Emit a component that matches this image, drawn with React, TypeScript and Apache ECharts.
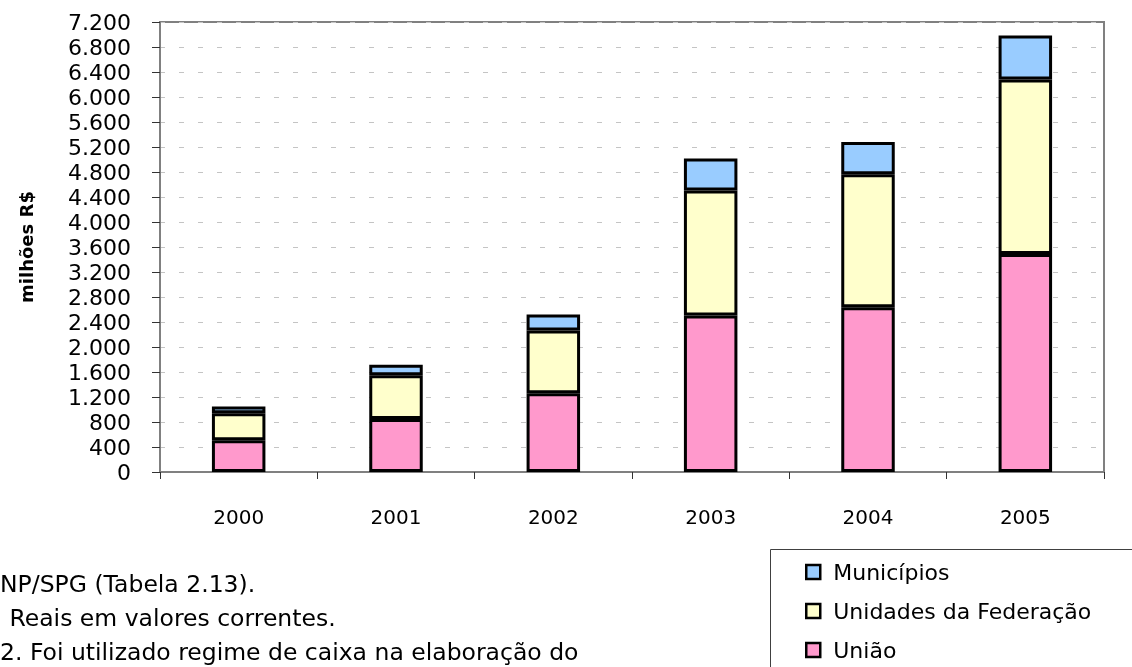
import React, { useEffect, useRef } from "react";
import * as echarts from "echarts";

const years = ["2000", "2001", "2002", "2003", "2004", "2005"];
const uniao = [510, 850, 1260, 2505, 2635, 3490];
const unidadesFederacao = [430, 700, 1005, 2000, 2130, 2790];
const municipios = [110, 165, 255, 510, 515, 705];
const seriesNames = ["União", "Unidades da Federação", "Municípios"];
const seriesColors = ["#FF99CC", "#FFFFCC", "#99CCFF"];
const footnotes = [
  "NP/SPG (Tabela 2.13).",
  " Reais em valores correntes.",
  "2. Foi utilizado regime de caixa na elaboração do",
];

const FONT = "DejaVu Sans";

export default function App() {
  const ref = useRef<HTMLDivElement>(null);
  useEffect(() => {
    if (!ref.current) return;
    const chart = echarts.init(ref.current, undefined, { renderer: "svg" });
    const data = [uniao, unidadesFederacao, municipios];
    chart.setOption({
      animation: false,
      grid: {
        left: 160,
        top: 22,
        right: 28,
        bottom: 195,
        show: true,
        borderColor: "#808080",
        borderWidth: 2,
        backgroundColor: "transparent",
      },
      xAxis: {
        type: "category",
        data: years,
        axisLine: { lineStyle: { color: "#808080", width: 2 } },
        axisTick: { show: true, length: 7, lineStyle: { color: "#333", width: 1 } },
        axisLabel: { color: "#000", fontFamily: FONT, fontSize: 20, margin: 35 },
      },
      yAxis: {
        type: "value",
        min: 0,
        max: 7200,
        interval: 400,
        name: "milhões R$",
        nameLocation: "middle",
        nameGap: 125,
        nameTextStyle: { color: "#000", fontFamily: FONT, fontSize: 18, fontWeight: "bold" },
        axisLine: { show: true, lineStyle: { color: "#808080", width: 2 } },
        axisTick: { show: true, length: 8, lineStyle: { color: "#333", width: 1 } },
        axisLabel: {
          color: "#000",
          fontFamily: FONT,
          fontSize: 22,
          margin: 29,
          formatter: (v: number) => String(v).replace(/\B(?=(\d{3})+(?!\d))/g, "."),
        },
        splitLine: { show: true, lineStyle: { color: "#c4c4c4", type: [5, 14], width: 1 } },
      },
      legend: {
        orient: "vertical",
        left: 805,
        top: 561,
        height: 200,
        padding: 0,
        icon: "rect",
        itemWidth: 14,
        itemHeight: 14,
        itemGap: 17,
        data: ["Municípios", "Unidades da Federação", "União"],
        textStyle: { color: "#000", fontFamily: FONT, fontSize: 22, lineHeight: 22, padding: [0, 0, 0, 8] },
        itemStyle: { borderColor: "#000", borderWidth: 2.5 },
      },
      graphic: [
        {
          type: "rect",
          shape: { x: 770.5, y: 549.5, width: 400, height: 200 },
          style: { fill: "none", stroke: "#404040", lineWidth: 1 },
        },
        ...footnotes.map((t, i) => ({
          type: "text",
          left: i === 1 ? 2 : 0,
          top: 572 + i * 34,
          style: { text: t, fill: "#000", font: `23.5px '${FONT}'` },
        })),
      ],
      series: seriesNames.map((name, i) => ({
        name,
        type: "bar",
        stack: "total",
        barWidth: "34%",
        data: data[i],
        itemStyle: { color: seriesColors[i], borderColor: "#000", borderWidth: 3 },
      })),
    });
    return () => chart.dispose();
  }, []);
  return <div ref={ref} style={{ position: "fixed", left: 0, top: 0, width: 1132, height: 667 }} />;
}
